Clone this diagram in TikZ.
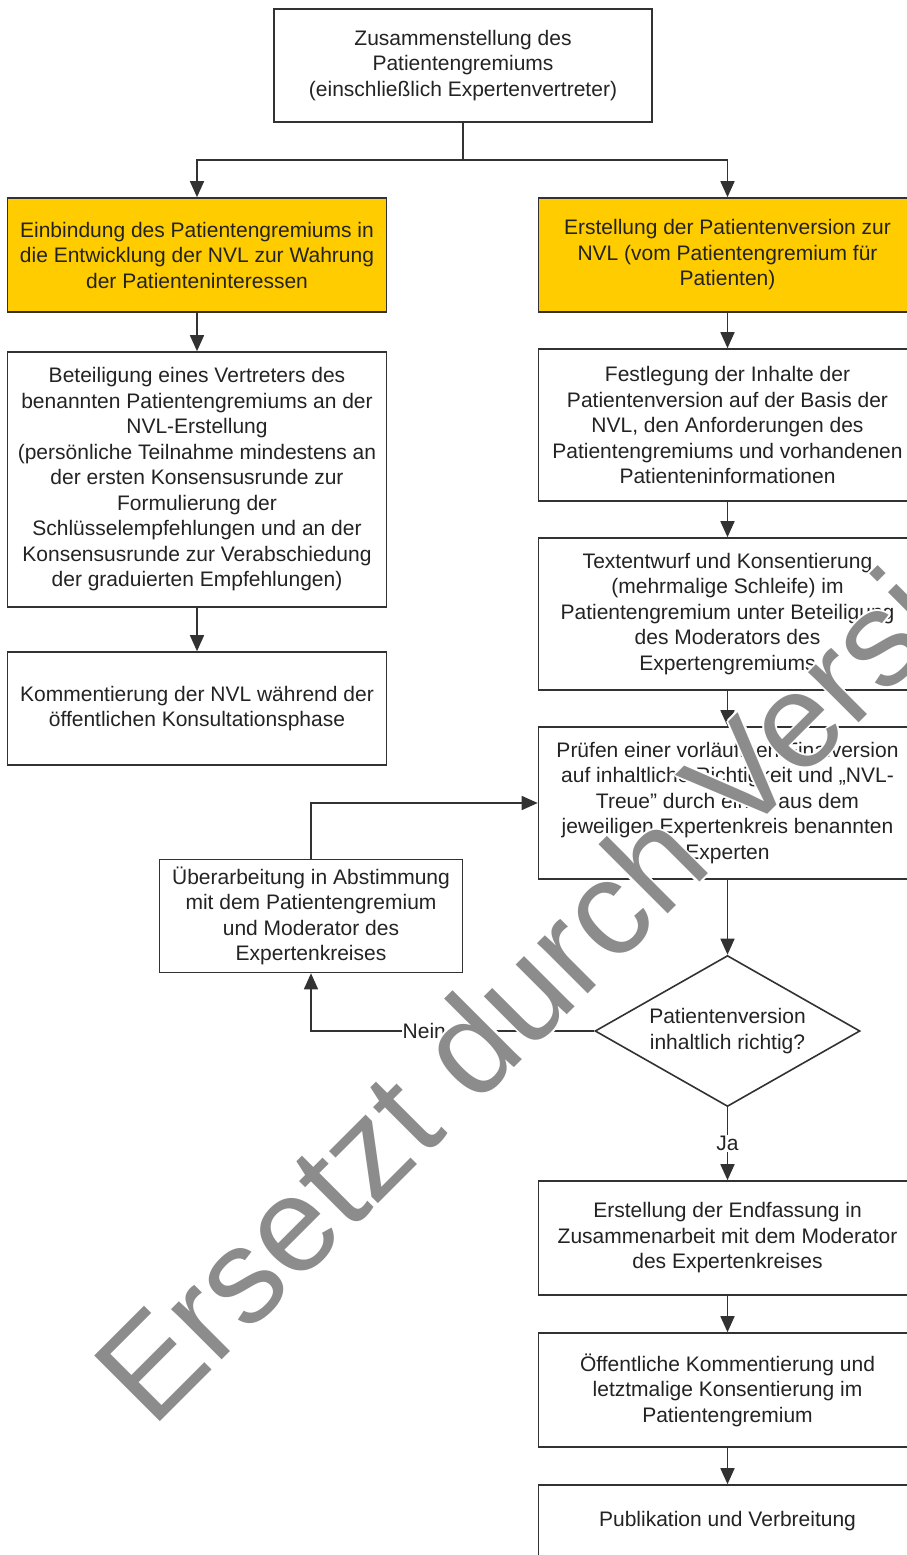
\documentclass[tikz,border=0pt]{standalone}
\usepackage{fontspec}
\setmainfont{Liberation Sans}
\usetikzlibrary{arrows.meta, shapes.geometric}

\definecolor{nvlgelb}{RGB}{255,204,0}
\definecolor{rahmen}{RGB}{50,50,50}
\definecolor{schrift}{RGB}{35,35,35}
\definecolor{wzgrau}{RGB}{140,140,140}

\begin{document}
\begin{tikzpicture}[x=1pt, y=-1pt,
		kasten/.style={draw=rahmen, line width=1.6pt, fill=white, text=schrift, align=center, inner xsep=2pt,
			minimum width=378pt, font=\fontsize{21}{25.5}\selectfont},
		gelb/.style={kasten, fill=nvlgelb},
		frage/.style={kasten, diamond, aspect=1.75, minimum width=265pt, minimum height=151pt, inner sep=0pt},
		linie/.style={draw=rahmen, line width=1.6pt},
		fluss/.style={linie, -{Triangle[width=14pt,length=16pt]}},
		marke/.style={fill=white, text=schrift, inner sep=1pt, font=\fontsize{21}{25.5}\selectfont},
		wz/.style={rotate=45, anchor=base west, inner sep=0pt, font=\fontsize{135}{135}\selectfont}]
		\clip (0,0) rectangle (907,1555);

		% Kopf
		\node[kasten, minimum height=113pt] (gremium) at (463,65.5)
			{Zusammenstellung des\\Patientengremiums\\(einschließlich Expertenvertreter)};
		\coordinate (teilung) at (463,160);

		% linker Strang
		\node[gelb, minimum width=379pt, minimum height=114pt] (einbindung) at (197,255)
			{Einbindung des Patientengremiums in\\die Entwicklung der NVL zur Wahrung\\der Patienteninteressen};
		\node[kasten, minimum width=379pt, minimum height=255pt] (beteiligung) at (197,479.5)
			{Beteiligung eines Vertreters des\\benannten Patientengremiums an der\\NVL-Erstellung\\(persönliche Teilnahme mindestens an\\der ersten Konsensusrunde zur\\Formulierung der\\Schlüsselempfehlungen und an der\\Konsensusrunde zur Verabschiedung\\der graduierten Empfehlungen)};
		\node[kasten, minimum width=379pt, minimum height=113pt] (kommentierung) at (197,708.5)
			{Kommentierung der NVL während der\\öffentlichen Konsultationsphase};

		% rechter Strang
		\node[gelb, minimum height=114pt] (erstellung) at (727.5,255)
			{Erstellung der Patientenversion zur\\NVL (vom Patientengremium für\\Patienten)};
		\node[kasten, minimum height=152pt] (festlegung) at (727.5,425)
			{Festlegung der Inhalte der\\Patientenversion auf der Basis der\\NVL, den Anforderungen des\\Patientengremiums und vorhandenen\\Patienteninformationen};
		\node[kasten, minimum height=152pt] (entwurf) at (727.5,614)
			{Textentwurf und Konsentierung\\(mehrmalige Schleife) im\\Patientengremium unter Beteiligung\\des Moderators des\\Expertengremiums};
		\node[kasten, minimum height=152pt] (pruefen) at (727.5,803)
			{Prüfen einer vorläufigen Finalversion\\auf inhaltliche Richtigkeit und „NVL-\\Treue" durch einen aus dem\\jeweiligen Expertenkreis benannten\\Experten};
		\node[frage] (richtig) at (727.5,1031) {Patientenversion\\inhaltlich richtig?};
		\node[kasten, minimum width=303pt, minimum height=113pt] (ueberarbeitung) at (311,916)
			{Überarbeitung in Abstimmung\\mit dem Patientengremium\\und Moderator des\\Expertenkreises};
		\node[kasten, minimum height=114pt] (endfassung) at (727.5,1238)
			{Erstellung der Endfassung in\\Zusammenarbeit mit dem Moderator\\des Expertenkreises};
		\node[kasten, minimum height=114pt] (oeffentlich) at (727.5,1390)
			{Öffentliche Kommentierung und\\letztmalige Konsentierung im\\Patientengremium};
		\node[kasten, minimum height=72pt] (publikation) at (727.5,1521)
			{Publikation und Verbreitung};

		% Verbindungen
		\draw[linie] (gremium) -- (teilung);
		\draw[fluss] (teilung) -| (einbindung);
		\draw[fluss] (teilung) -| (erstellung);
		\draw[fluss] (einbindung) -- (beteiligung);
		\draw[fluss] (beteiligung) -- (kommentierung);
		\draw[fluss] (erstellung) -- (festlegung);
		\draw[fluss] (festlegung) -- (entwurf);
		\draw[fluss] (entwurf) -- (pruefen);
		\draw[fluss] (pruefen) -- (richtig);
		\draw[fluss] (richtig) -- node[marke] {Ja} (endfassung);
		\draw[fluss] (richtig.west) -| node[marke, pos=0.3] {Nein} (ueberarbeitung);
		\draw[fluss] (ueberarbeitung) |- (pruefen);
		\draw[fluss] (endfassung) -- (oeffentlich);
		\draw[fluss] (oeffentlich) -- (publikation);

		% Wasserzeichen
		\foreach \w in {0,45,...,315}
			\node[wz, white, shift={(\w:2pt)}] at (152,1430) {Ersetzt durch Version};
		\node[wz, wzgrau] (wasserzeichen) at (152,1430) {Ersetzt durch Version};
	\end{tikzpicture}
\end{document}
